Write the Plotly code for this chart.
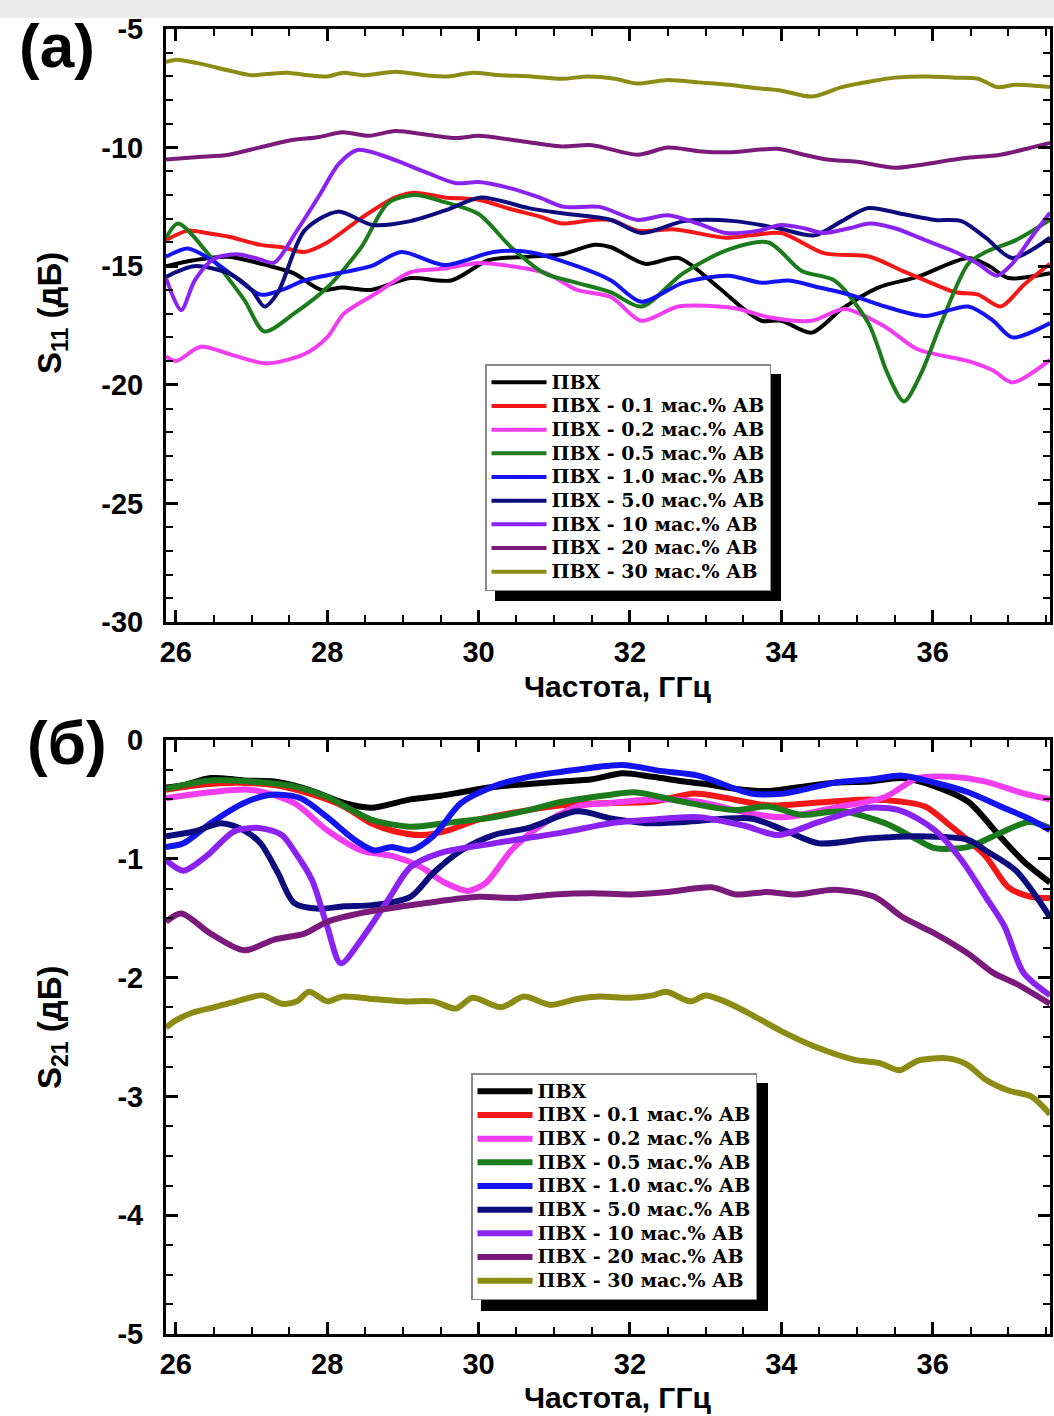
import plotly.graph_objects as go

W, H = 1054, 1416

# ---------------- S11 (panel a) ----------------
a_pvc_x = [25.87, 26.24, 26.69, 27.25, 27.56, 27.92, 28.2, 28.58, 29.1, 29.64, 30.13, 30.66, 31.1, 31.53, 31.75,
           32.2, 32.64, 33.17, 33.5, 33.74, 34.0, 34.4, 34.8, 35.28, 35.8, 36.47, 36.75, 37.0, 37.55]
a_pvc_y = [-15.0, -14.75, -14.6, -15.0, -15.3, -16.0, -15.9, -16.0, -15.5, -15.6, -14.75, -14.6, -14.5, -14.1, -14.2,
           -14.9, -14.65, -15.9, -16.8, -17.3, -17.3, -17.8, -16.8, -15.9, -15.45, -14.65, -15.0, -15.5, -15.3]

a_01_x = [25.87, 26.16, 26.4, 26.69, 27.12, 27.4, 27.7, 28.0, 28.45, 28.9, 29.15, 29.55, 30.0, 30.43, 30.8, 31.1,
          31.5, 31.75, 32.1, 32.6, 33.26, 33.6, 34.0, 34.56, 35.17, 35.6, 35.9, 36.3, 36.6, 36.9, 37.2, 37.55]
a_01_y = [-13.9, -13.5, -13.6, -13.75, -14.1, -14.2, -14.4, -14.0, -12.97, -12.1, -11.9, -12.1, -12.2, -12.6, -12.9,
          -13.2, -13.05, -13.05, -13.5, -13.45, -13.8, -13.7, -13.6, -14.45, -14.6, -15.2, -15.6, -16.1, -16.2, -16.7,
          -15.8, -14.9]

a_02_x = [25.87, 26.0, 26.33, 26.75, 27.2, 27.7, 28.0, 28.22, 28.67, 29.1, 29.55, 30.0, 30.43, 30.9, 31.3, 31.75,
          32.15, 32.64, 33.38, 33.83, 34.4, 34.84, 35.37, 35.8, 36.47, 36.8, 37.05, 37.55]
a_02_y = [-18.8, -19.0, -18.4, -18.75, -19.1, -18.7, -18.0, -17.0, -16.1, -15.25, -15.1, -14.87, -15.0, -15.3, -16.0,
          -16.3, -17.3, -16.7, -16.77, -17.15, -17.3, -16.8, -17.55, -18.5, -19.0, -19.4, -19.9, -18.95]

a_05_x = [25.87, 26.03, 26.46, 26.9, 27.17, 27.56, 28.0, 28.45, 28.8, 29.15, 29.55, 30.0, 30.43, 30.87, 31.3, 31.75,
          32.15, 32.7, 33.3, 33.83, 34.27, 34.7, 35.15, 35.4, 35.62, 35.85, 36.1, 36.47, 36.7, 37.1, 37.55]
a_05_y = [-13.8, -13.2, -14.6, -16.4, -17.75, -17.0, -15.9, -14.2, -12.35, -12.0, -12.3, -12.8, -14.2, -15.3, -15.7,
          -16.1, -16.7, -15.3, -14.3, -14.0, -15.2, -15.6, -17.4, -19.5, -20.7, -19.5, -17.5, -14.9, -14.4, -13.9,
          -13.05]

a_10_x = [25.87, 26.16, 26.45, 26.8, 27.12, 27.4, 27.7, 28.14, 28.58, 28.98, 29.55, 30.2, 30.66, 31.3, 31.75, 32.15,
          32.7, 33.3, 33.74, 34.1, 34.5, 34.9, 35.37, 35.9, 36.47, 36.8, 37.05, 37.55]
a_10_y = [-14.6, -14.25, -14.7, -15.5, -16.2, -16.0, -15.6, -15.3, -15.0, -14.4, -14.95, -14.4, -14.4, -15.0, -15.6,
          -16.5, -15.7, -15.4, -15.7, -15.6, -15.9, -16.2, -16.7, -17.1, -16.7, -17.3, -18.0, -17.4]

a_50_x = [25.87, 26.24, 26.7, 27.0, 27.17, 27.35, 27.7, 28.14, 28.6, 29.1, 29.6, 30.03, 30.66, 31.1, 31.75, 32.15,
          32.72, 33.38, 33.96, 34.44, 34.8, 35.15, 35.6, 36.03, 36.38, 36.7, 37.05, 37.55]
a_50_y = [-15.45, -15.0, -15.3, -16.0, -16.7, -16.1, -13.5, -12.7, -13.26, -13.1, -12.6, -12.1, -12.55, -12.77, -13.05,
          -13.6, -13.1, -13.1, -13.4, -13.7, -13.1, -12.55, -12.8, -13.05, -13.1, -13.8, -14.65, -13.8]

a_100_x = [25.87, 26.07, 26.25, 26.5, 26.8, 27.1, 27.3, 27.6, 27.9, 28.15, 28.4, 28.7, 29.0, 29.35, 29.7, 30.0, 30.4,
           30.8, 31.13, 31.6, 32.1, 32.5, 32.9, 33.26, 33.7, 34.0, 34.3, 34.56, 34.9, 35.17, 35.5, 35.9, 36.3, 36.6,
           36.85, 37.05, 37.3, 37.55]
a_100_y = [-15.5, -16.85, -15.6, -14.7, -14.5, -14.7, -14.85, -13.5, -12.0, -10.7, -10.1, -10.3, -10.65, -11.1, -11.5,
           -11.45, -11.7, -12.1, -12.5, -12.5, -13.05, -12.85, -13.2, -13.6, -13.5, -13.26, -13.4, -13.6, -13.4, -13.2,
           -13.4, -13.9, -14.4, -14.9, -15.4, -14.9, -13.8, -12.75]

a_200_x = [25.87, 26.3, 26.7, 27.1, 27.5, 27.9, 28.2, 28.55, 28.9, 29.3, 29.7, 30.0, 30.5, 31.1, 31.5, 32.1, 32.5,
           32.9, 33.3, 33.95, 34.3, 34.6, 35.0, 35.5, 35.9, 36.4, 36.9, 37.3, 37.55]
a_200_y = [-10.5, -10.4, -10.3, -10.0, -9.7, -9.55, -9.35, -9.5, -9.3, -9.45, -9.6, -9.5, -9.7, -9.95, -9.9, -10.3,
           -10.0, -10.15, -10.2, -10.05, -10.3, -10.5, -10.6, -10.85, -10.7, -10.45, -10.3, -10.0, -9.8]

a_300_x = [25.87, 26.0, 26.3, 26.7, 27.0, 27.2, 27.5, 27.75, 28.0, 28.2, 28.5, 28.9, 29.3, 29.6, 29.9, 30.3, 30.7,
           31.1, 31.45, 31.8, 32.1, 32.5, 32.9, 33.3, 33.7, 34.0, 34.4, 34.8, 35.2, 35.5, 35.9, 36.3, 36.6, 36.85,
           37.1, 37.55]
a_300_y = [-6.4, -6.3, -6.45, -6.75, -6.95, -6.9, -6.85, -6.95, -7.0, -6.85, -6.95, -6.8, -6.95, -7.0, -6.85, -6.95,
           -7.0, -7.1, -7.0, -7.1, -7.3, -7.15, -7.25, -7.35, -7.5, -7.6, -7.85, -7.45, -7.2, -7.05, -7.0, -7.05, -7.1,
           -7.45, -7.35, -7.45]

# ---------------- S21 (panel b) ----------------
b_pvc_x = [25.87, 26.1, 26.46, 26.9, 27.3, 27.76, 28.22, 28.58, 29.1, 29.5, 29.77, 30.13, 30.66, 31.1, 31.5, 31.9,
           32.3, 32.72, 33.0, 33.38, 33.8, 34.2, 34.7, 35.15, 35.6, 36.03, 36.47, 36.9, 37.2, 37.55]
b_pvc_y = [-0.4, -0.38, -0.32, -0.34, -0.35, -0.42, -0.53, -0.57, -0.5, -0.47, -0.44, -0.4, -0.37, -0.35, -0.33, -0.28,
           -0.31, -0.35, -0.37, -0.41, -0.43, -0.4, -0.36, -0.35, -0.32, -0.39, -0.52, -0.82, -1.02, -1.2]

b_01_x = [25.87, 26.3, 26.8, 27.3, 27.76, 28.22, 28.58, 28.9, 29.25, 29.6, 30.0, 30.66, 31.1, 31.75, 32.3, 32.85,
          33.2, 33.83, 34.4, 35.15, 35.6, 35.9, 36.25, 36.7, 37.0, 37.3, 37.55]
b_01_y = [-0.42, -0.38, -0.36, -0.38, -0.45, -0.56, -0.7, -0.77, -0.8, -0.76, -0.67, -0.59, -0.55, -0.53, -0.52,
          -0.45, -0.48, -0.55, -0.53, -0.5, -0.52, -0.56, -0.73, -0.98, -1.24, -1.32, -1.33]

b_02_x = [25.87, 26.46, 27.0, 27.56, 28.0, 28.45, 28.88, 29.24, 29.55, 29.86, 30.1, 30.43, 30.8, 31.3, 31.75, 32.3,
          32.9, 33.6, 34.04, 34.7, 35.37, 35.8, 36.25, 36.7, 37.2, 37.55]
b_02_y = [-0.49, -0.44, -0.42, -0.53, -0.76, -0.93, -0.98, -1.07, -1.2, -1.27, -1.2, -0.93, -0.73, -0.56, -0.53, -0.5,
          -0.52, -0.62, -0.65, -0.57, -0.48, -0.32, -0.31, -0.35, -0.45, -0.5]

b_05_x = [25.87, 26.46, 27.0, 27.56, 28.0, 28.3, 28.58, 29.1, 29.55, 30.2, 30.66, 31.1, 31.75, 32.06, 32.7, 33.38,
          33.83, 34.27, 34.8, 35.37, 35.8, 36.03, 36.47, 36.9, 37.27, 37.55]
b_05_y = [-0.41, -0.34, -0.35, -0.39, -0.48, -0.58, -0.67, -0.73, -0.7, -0.65, -0.59, -0.52, -0.46, -0.44, -0.52,
          -0.59, -0.56, -0.63, -0.6, -0.7, -0.84, -0.91, -0.9, -0.78, -0.69, -0.74]

b_10_x = [25.87, 26.1, 26.46, 26.9, 27.26, 27.65, 28.0, 28.36, 28.62, 28.85, 29.1, 29.4, 29.77, 30.2, 30.66, 31.3,
          31.9, 32.4, 32.9, 33.6, 34.04, 34.7, 35.2, 35.6, 36.03, 36.47, 36.9, 37.3, 37.55]
b_10_y = [-0.9, -0.87, -0.7, -0.53, -0.46, -0.49, -0.65, -0.84, -0.93, -0.9, -0.93, -0.81, -0.53, -0.39, -0.31, -0.25,
          -0.21, -0.26, -0.3, -0.45, -0.45, -0.36, -0.33, -0.3, -0.36, -0.44, -0.56, -0.67, -0.76]

b_50_x = [25.87, 26.24, 26.6, 26.9, 27.12, 27.35, 27.56, 27.9, 28.22, 28.6, 29.1, 29.4, 29.77, 30.2, 30.66, 31.3,
          31.75, 32.2, 32.72, 33.6, 34.04, 34.5, 35.15, 35.8, 36.47, 36.7, 37.1, 37.55]
b_50_y = [-0.81, -0.77, -0.7, -0.76, -0.87, -1.12, -1.37, -1.42, -1.4, -1.39, -1.32, -1.12, -0.93, -0.8, -0.74, -0.6,
          -0.66, -0.7, -0.69, -0.66, -0.76, -0.87, -0.83, -0.81, -0.84, -0.93, -1.1, -1.49]

b_100_x = [25.87, 26.1, 26.4, 26.77, 27.1, 27.4, 27.56, 27.8, 28.0, 28.18, 28.45, 28.8, 29.1, 29.5, 30.2, 31.1,
           31.75, 32.3, 32.9, 33.5, 33.96, 34.5, 35.15, 35.6, 36.03, 36.38, 36.7, 36.95, 37.2, 37.55]
b_100_y = [-1.01, -1.1, -0.98, -0.77, -0.74, -0.8, -0.93, -1.18, -1.57, -1.88, -1.68, -1.35, -1.07, -0.95, -0.87,
           -0.78, -0.7, -0.67, -0.65, -0.72, -0.8, -0.69, -0.57, -0.6, -0.76, -1.01, -1.32, -1.57, -1.96, -2.15]

b_200_x = [25.87, 26.07, 26.46, 26.9, 27.3, 27.7, 28.0, 28.5, 29.0, 29.33, 30.0, 30.5, 31.0, 31.5, 32.0, 32.5, 33.08,
           33.4, 33.8, 34.2, 34.7, 35.23, 35.6, 36.03, 36.47, 36.8, 37.1, 37.55]
b_200_y = [-1.53, -1.46, -1.63, -1.77, -1.68, -1.63, -1.53, -1.45, -1.4, -1.37, -1.32, -1.33, -1.3, -1.29, -1.3,
           -1.28, -1.24, -1.3, -1.28, -1.3, -1.26, -1.32, -1.49, -1.63, -1.8, -1.96, -2.05, -2.22]

b_300_x = [25.87, 26.0, 26.2, 26.5, 26.8, 27.15, 27.4, 27.6, 27.76, 28.0, 28.2, 28.6, 29.0, 29.4, 29.7, 29.92, 30.3,
           30.6, 30.95, 31.3, 31.6, 32.0, 32.3, 32.48, 32.8, 33.0, 33.25, 33.54, 34.0, 34.44, 34.96, 35.3, 35.56, 35.8,
           36.2, 36.45, 36.7, 37.0, 37.3, 37.55]
b_300_y = [-2.42, -2.36, -2.3, -2.25, -2.2, -2.15, -2.22, -2.2, -2.12, -2.2, -2.16, -2.18, -2.2, -2.2, -2.26, -2.17,
           -2.25, -2.16, -2.23, -2.18, -2.16, -2.17, -2.15, -2.12, -2.2, -2.15, -2.2, -2.29, -2.45, -2.58, -2.69, -2.72,
           -2.78, -2.7, -2.68, -2.73, -2.86, -2.95, -3.0, -3.15]

series_names = ["ПВХ", "ПВХ - 0.1 мас.% АВ", "ПВХ - 0.2 мас.% АВ", "ПВХ - 0.5 мас.% АВ", "ПВХ - 1.0 мас.% АВ",
                "ПВХ - 5.0 мас.% АВ", "ПВХ - 10 мас.% АВ", "ПВХ - 20 мас.% АВ", "ПВХ - 30 мас.% АВ"]
series_colors = ["#000000", "#f21818", "#f23cf0", "#1c7c1c", "#1414f0", "#0c0c7c", "#8a22f0", "#7a1a7a", "#8c8c14"]

panel_a = [(a_pvc_x, a_pvc_y), (a_01_x, a_01_y), (a_02_x, a_02_y), (a_05_x, a_05_y), (a_10_x, a_10_y),
           (a_50_x, a_50_y), (a_100_x, a_100_y), (a_200_x, a_200_y), (a_300_x, a_300_y)]
panel_b = [(b_pvc_x, b_pvc_y), (b_01_x, b_01_y), (b_02_x, b_02_y), (b_05_x, b_05_y), (b_10_x, b_10_y),
           (b_50_x, b_50_y), (b_100_x, b_100_y), (b_200_x, b_200_y), (b_300_x, b_300_y)]

x_ticks = [26, 28, 30, 32, 34, 36]
s11_ticks = [-30, -25, -20, -15, -10, -5]
s21_ticks = [-5, -4, -3, -2, -1, 0]


def px(x):
    return x / W


def py(y):
    return 1 - y / H


# legend rows keep a compact pitch (base font) while the label text itself is larger
LEG_SPAN = "<span style='font-size:19px'>{}</span>"

fig = go.Figure()
for (xs, ys), name, col in zip(panel_a, series_names, series_colors):
    fig.add_trace(go.Scatter(x=xs, y=ys, mode="lines", name=LEG_SPAN.format(name), xaxis="x", yaxis="y",
                             legend="legend",
                             line=dict(color=col, width=4, shape="spline", smoothing=0.8)))
for (xs, ys), name, col in zip(panel_b, series_names, series_colors):
    fig.add_trace(go.Scatter(x=xs, y=ys, mode="lines", name=LEG_SPAN.format(name), xaxis="x2", yaxis="y2",
                             legend="legend2",
                             line=dict(color=col, width=6, shape="spline", smoothing=0.8)))

TICK_FONT = dict(family="Liberation Sans, Arial", size=29, color="black", weight="bold")


def axis(**kw):
    d = dict(showline=True, linecolor="black", linewidth=3, mirror="allticks", ticks="inside", ticklen=12,
             tickwidth=2.5, tickcolor="black", showgrid=False, zeroline=False, tickfont=TICK_FONT,
             tickmode="array", automargin=False)
    d.update(kw)
    return d


def minor(tick0, dtick):
    return dict(ticks="inside", ticklen=7, tickwidth=2, tickcolor="black", tickmode="linear",
                tick0=tick0, dtick=dtick, showgrid=False)


x_dom = [px(166), px(1050)]
LEG_FONT = dict(family="DejaVu Serif, Liberation Serif", size=15.9, color="black", weight="bold")
fig.update_layout(
    width=W, height=H, margin=dict(l=0, r=0, t=0, b=0, pad=0), template="none",
    paper_bgcolor="white", plot_bgcolor="white",
    xaxis=axis(domain=x_dom, range=[25.87, 37.55], anchor="y", tickvals=x_ticks,
               ticktext=[str(v) for v in x_ticks], ticklabelstandoff=2, minor=minor(26, 0.5)),
    yaxis=axis(domain=[py(622), py(29)], range=[-30, -5], anchor="x", tickvals=s11_ticks,
               ticktext=[str(v) for v in s11_ticks], ticklabelstandoff=14, minor=minor(-30, 1)),
    xaxis2=axis(domain=x_dom, range=[25.87, 37.55], anchor="y2", tickvals=x_ticks,
                ticktext=[str(v) for v in x_ticks], ticklabelstandoff=2, minor=minor(26, 0.5)),
    yaxis2=axis(domain=[py(1334), py(740)], range=[-5, 0], anchor="x2", tickvals=s21_ticks,
                ticktext=[str(v) for v in s21_ticks], ticklabelstandoff=14, minor=minor(-5, 0.25)),
    legend=dict(x=px(485), y=py(364), xanchor="left", yanchor="top", bgcolor="white", bordercolor="#8a8a8a",
                borderwidth=1.5, itemwidth=55, font=LEG_FONT),
    legend2=dict(x=px(471), y=py(1073), xanchor="left", yanchor="top", bgcolor="white", bordercolor="#8a8a8a",
                 borderwidth=1.5, itemwidth=55, font=LEG_FONT),
    showlegend=True,
)

# light band along the top edge and drop shadows behind the legends
fig.add_shape(type="rect", xref="paper", yref="paper", x0=0, x1=1, y0=py(18), y1=1, fillcolor="#ebebeb",
              line_width=0, layer="below")
fig.add_shape(type="rect", xref="paper", yref="paper", x0=px(495), x1=px(781), y0=py(601), y1=py(374),
              fillcolor="black", line_width=0, layer="above")
fig.add_shape(type="rect", xref="paper", yref="paper", x0=px(481), x1=px(768), y0=py(1311), y1=py(1083),
              fillcolor="black", line_width=0, layer="above")

TITLE_FONT = dict(family="Liberation Sans, Arial", size=30, color="black", weight="bold")
YTITLE_FONT = dict(family="Liberation Sans, Arial", size=33, color="black", weight="bold")
PANEL_FONT = dict(family="Liberation Sans, Arial", size=62, color="black", weight="bold")

annotations = [
    dict(text="(a)", x=px(57), y=py(46), font=PANEL_FONT),
    dict(text="(б)", x=px(67), y=py(742), font=PANEL_FONT),
    dict(text="Частота, ГГц", x=px(617), y=py(687), font=TITLE_FONT),
    dict(text="Частота, ГГц", x=px(617), y=py(1397), font=TITLE_FONT),
    dict(text="S<sub>11</sub> (дБ)", x=px(52), y=py(313), textangle=-90, font=YTITLE_FONT),
    dict(text="S<sub>21</sub> (дБ)", x=px(52), y=py(1027), textangle=-90, font=YTITLE_FONT),
]
for a in annotations:
    fig.add_annotation(xref="paper", yref="paper", showarrow=False, xanchor="center", yanchor="middle", **a)

fig.write_html("out.html")
